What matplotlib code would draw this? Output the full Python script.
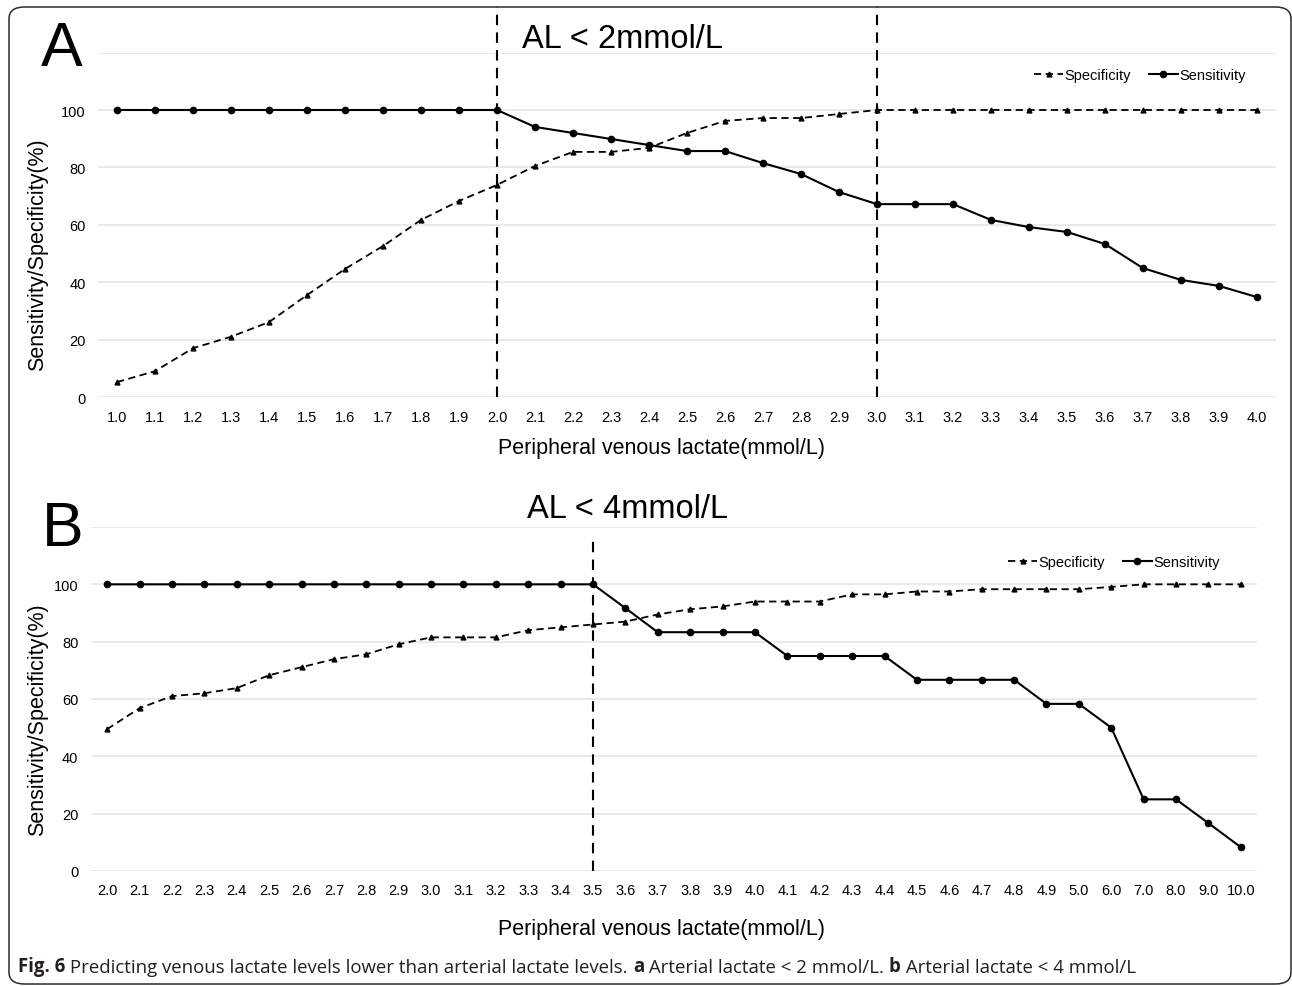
import numpy as np
import matplotlib.pyplot as plt
from matplotlib.patches import FancyBboxPatch

plt.rcParams['font.family'] = ['Liberation Sans', 'DejaVu Sans']

# panel A: arterial lactate < 2 mmol/L
lactate_a = ['1.0', '1.1', '1.2', '1.3', '1.4', '1.5', '1.6', '1.7', '1.8', '1.9',
             '2.0', '2.1', '2.2', '2.3', '2.4', '2.5', '2.6', '2.7', '2.8', '2.9',
             '3.0', '3.1', '3.2', '3.3', '3.4', '3.5', '3.6', '3.7', '3.8', '3.9', '4.0']
spec_a = [5.2, 9.0, 17.0, 21.0, 26.1, 35.5, 44.6, 52.6, 61.7, 68.3,
          73.9, 80.5, 85.4, 85.4, 86.8, 92.0, 96.2, 97.2, 97.2, 98.6,
          100, 100, 100, 100, 100, 100, 100, 100, 100, 100, 100]
sens_a = [100, 100, 100, 100, 100, 100, 100, 100, 100, 100,
          100, 94.1, 92.0, 89.9, 87.8, 85.7, 85.7, 81.5, 77.7, 71.4,
          67.2, 67.2, 67.2, 61.7, 59.2, 57.5, 53.3, 44.9, 40.8, 38.7, 34.8]
cutoffs_a = ['2.0', '3.0']

# panel B: arterial lactate < 4 mmol/L
lactate_b = ['2.0', '2.1', '2.2', '2.3', '2.4', '2.5', '2.6', '2.7', '2.8', '2.9',
             '3.0', '3.1', '3.2', '3.3', '3.4', '3.5', '3.6', '3.7', '3.8', '3.9',
             '4.0', '4.1', '4.2', '4.3', '4.4', '4.5', '4.6', '4.7', '4.8', '4.9',
             '5.0', '6.0', '7.0', '8.0', '9.0', '10.0']
spec_b = [49.5, 56.8, 61.0, 62.0, 63.8, 68.3, 71.1, 73.9, 75.6, 79.1,
          81.5, 81.5, 81.5, 84.0, 85.0, 86.0, 87.0, 89.5, 91.3, 92.3,
          94.0, 94.0, 94.0, 96.5, 96.5, 97.5, 97.5, 98.3, 98.3, 98.3,
          98.3, 99.1, 100, 100, 100, 100]
sens_b = [100, 100, 100, 100, 100, 100, 100, 100, 100, 100,
          100, 100, 100, 100, 100, 100, 91.7, 83.3, 83.3, 83.3,
          83.3, 75.0, 75.0, 75.0, 75.0, 66.7, 66.7, 66.7, 66.7, 58.3,
          58.3, 50.0, 25.0, 25.0, 16.7, 8.3]
cutoffs_b = ['3.5']

W, H = 1292, 987
fig = plt.figure(figsize=(W / 100, H / 100), dpi=100)


def fx(px):
    return px / W


def fy(py):
    return 1 - py / H


def panel(rect, cats, spec, sens, cutoffs, line_top, legend_xy):
    ax = fig.add_axes(rect)
    x = np.arange(len(cats))
    ax.plot(x, spec, color='black', lw=1.3, ls=(0, (4, 2.5)), marker='^', ms=3.5,
            label='Specificity')
    ax.plot(x, sens, color='black', lw=1.5, marker='o', ms=4.5, label='Sensitivity')
    for c in cutoffs:
        xi = cats.index(c)
        ax.plot([xi, xi], [0, line_top], color='black', lw=1.5, ls=(0, (5, 3.5)),
                clip_on=False, zorder=1)
    ax.set_xlim(-0.5, len(cats) - 0.5)
    ax.set_ylim(0, 120)
    ax.set_yticks(np.arange(0, 121, 20))
    ax.set_yticklabels([str(v) for v in range(0, 101, 20)] + [''])
    ax.set_xticks(x)
    ax.set_xticklabels(cats)
    ax.grid(axis='y', color='#e6e6e6', lw=1.2)
    ax.set_axisbelow(True)
    for s in ax.spines.values():
        s.set_visible(False)
    ax.tick_params(length=0, labelsize=10.5, pad=9)
    ax.tick_params(axis='y', pad=9)
    ax.legend(loc='center', bbox_to_anchor=legend_xy, bbox_transform=fig.transFigure,
              ncol=2, frameon=False, fontsize=10.5, handlelength=2.0, handletextpad=0.1,
              columnspacing=1.2, borderaxespad=0)
    return ax


ax_a = panel([fx(98), fy(398), fx(1276 - 98), (398 - 53.6) / H],
             lactate_a, spec_a, sens_a, cutoffs_a, 136, (fx(1140), fy(76)))
ax_b = panel([fx(91), fy(872), fx(1257 - 91), (872 - 528) / H],
             lactate_b, spec_b, sens_b, cutoffs_b, 117, (fx(1114), fy(563)))

fig.text(fx(62), fy(50), 'A', fontsize=45, ha='center', va='center')
fig.text(fx(63), fy(529), 'B', fontsize=45, ha='center', va='center')
fig.text(fx(623), fy(40), 'AL < 2mmol/L', fontsize=23.5, ha='center', va='center')
fig.text(fx(628), fy(510), 'AL < 4mmol/L', fontsize=23.5, ha='center', va='center')
for yc in (255, 720):
    fig.text(fx(38), fy(yc), 'Sensitivity/Specificity(%)', fontsize=15.5,
             rotation=90, ha='center', va='center')
for yc in (449, 930):
    fig.text(fx(661), fy(yc), 'Peripheral venous lactate(mmol/L)', fontsize=15.5,
             ha='center', va='center')

# rounded frame round the whole figure
frame = FancyBboxPatch((fx(9), fy(985)), fx(1291 - 9), (985 - 8) / H,
                       boxstyle='round,pad=0,rounding_size=0.012',
                       transform=fig.transFigure, fill=False, ec='#2b2b2b', lw=1.1)
fig.patches.append(frame)

# caption with bold parts, chained one after another
cap_font = ['Open Sans', 'DejaVu Sans']
cap_size = 13.4
parts = [('Fig. 6', 'bold'),
         (' Predicting venous lactate levels lower than arterial lactate levels. ', 'normal'),
         ('a', 'bold'),
         (' Arterial lactate < 2 mmol/L. ', 'normal'),
         ('b', 'bold'),
         (' Arterial lactate < 4 mmol/L', 'normal')]
prev = fig.text(fx(18), fy(967), parts[0][0], fontsize=cap_size, fontweight=parts[0][1],
                family=cap_font, va='center', color='#231f20')
for txt, wt in parts[1:]:
    prev = plt.annotate(txt, xy=(1, 0), xycoords=prev, va='bottom', ha='left',
                        fontsize=cap_size, fontweight=wt, family=cap_font,
                        color='#231f20', annotation_clip=False)

fig.savefig('out.png', dpi=100)
